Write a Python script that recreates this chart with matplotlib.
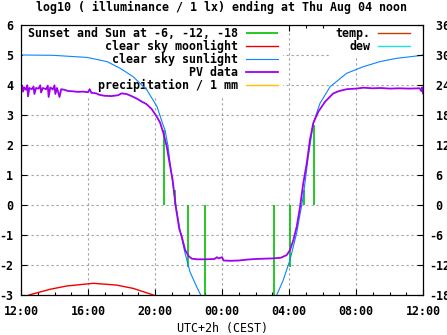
import matplotlib
matplotlib.use('Agg')
import matplotlib.pyplot as plt
from matplotlib.ticker import MultipleLocator

# hours after 12:00 noon (local time, UTC+2)
x_ticks = [0, 4, 8, 12, 16, 20, 24]
x_labels = ['12:00', '16:00', '20:00', '00:00', '04:00', '08:00', '12:00']
y_ticks = [-3, -2, -1, 0, 1, 2, 3, 4, 5, 6]
y_labels = ['-3', '-2', '-1', '0', '1', '2', '3', '4', '5', '6']
y2_ticks = [-18, -12, -6, 0, 6, 12, 18, 24, 30, 36]
y2_labels = ['-18', '-12', '-6', ' 0', ' 6', ' 12', ' 18', ' 24', ' 30', ' 36']

# sunset and sun at -6, -12, -18 (impulses)
sun_t = [8.556, 9.194, 9.99, 11.0, 15.12, 16.08, 16.91, 17.51]
sun_v = [2.5, 0.5, -2.05, -3.0, -3.0, -2.05, 0.5, 2.67]

# clear sky moonlight
moon_t = [0.2, 0.48, 1.73, 2.73, 4.32, 5.71, 6.7, 7.9, 8.2]
moon_v = [-3.1, -3.0, -2.81, -2.7, -2.61, -2.67, -2.78, -3.0, -3.1]

# clear sky sunlight
sky_t = [0.0, 1.9, 3.94, 5.13, 5.91, 6.69, 7.52, 8.12, 8.48, 8.6, 8.78, 8.9,
         9.19, 9.49, 9.79, 10.09, 10.49, 10.73, 10.9,
         15.1, 15.27, 15.66, 16.06, 16.46, 16.85, 17.15, 17.45, 17.85, 18.45,
         19.44, 20.44, 21.43, 22.43, 23.82, 24.0]
sky_v = [5.0, 4.99, 4.92, 4.78, 4.56, 4.28, 3.83, 3.28, 2.67, 2.5, 1.95, 1.4,
         0.17, -0.83, -1.6, -2.23, -2.73, -3.0, -3.3,
         -3.3, -3.0, -2.5, -1.83, -0.93, 0.28, 1.61, 2.73, 3.39, 3.94,
         4.39, 4.61, 4.78, 4.89, 4.98, 5.0]

# PV data
pv_t = [0.0, 0.08, 0.12, 0.2, 0.3, 0.38, 0.42, 0.5, 0.65, 0.75, 0.8, 0.9,
        1.05, 1.15, 1.2, 1.3, 1.5, 1.6, 1.65, 1.75, 1.9, 2.0, 2.05, 2.15,
        2.3, 2.4, 2.6, 2.8, 3.1, 3.4, 3.7, 4.0, 4.1, 4.2, 4.5, 4.7, 5.0,
        5.4, 5.8, 6.0, 6.3, 6.6, 6.9, 7.2, 7.5, 7.8, 8.1, 8.3, 8.5, 8.7,
        8.9, 9.05, 9.25, 9.45, 9.6, 9.8, 10.0, 10.2, 10.5, 11.0, 11.55,
        11.7, 11.8, 12.0, 12.1, 12.5, 13.0, 13.5, 14.0, 14.5, 15.0, 15.5,
        15.86, 16.06, 16.26, 16.46, 16.66, 16.85, 17.06, 17.25, 17.45,
        17.75, 18.15, 18.64, 19.0, 19.44, 20.0, 20.44, 21.0, 21.5, 22.0,
        22.6, 23.2, 23.8, 23.9, 23.95, 24.0]
pv_v = [3.9, 3.97, 3.78, 3.92, 3.84, 3.99, 3.62, 3.9, 3.86, 3.95, 3.7, 3.9,
        3.88, 3.99, 3.75, 3.9, 3.86, 3.98, 3.6, 3.92, 3.85, 3.99, 3.7, 3.9,
        3.6, 3.86, 3.84, 3.8, 3.79, 3.77, 3.78, 3.76, 3.86, 3.74, 3.72, 3.67, 3.64,
        3.63, 3.66, 3.72, 3.7, 3.63, 3.55, 3.45, 3.36, 3.2, 2.95, 2.75, 2.4, 1.95,
        1.3, 0.85, -0.1, -0.8, -1.06, -1.5, -1.7, -1.79, -1.81, -1.81, -1.8,
        -1.74, -1.78, -1.74, -1.85, -1.86, -1.85, -1.82, -1.8, -1.79, -1.78, -1.76,
        -1.67, -1.5, -1.17, -0.72, -0.06, 0.72, 1.39, 2.17, 2.73,
        3.11, 3.44, 3.72, 3.8, 3.86, 3.88, 3.91, 3.89, 3.9, 3.88,
        3.89, 3.88, 3.89, 3.8, 3.92, 3.72]

# no visible data in this window
precip_t, precip_v = [], []
temp_t, temp_v = [], []
dew_t, dew_v = [], []

FONT = dict(family='DejaVu Sans Mono', weight='bold', size=8.4)
plt.rcParams['font.family'] = 'DejaVu Sans Mono'
plt.rcParams['font.weight'] = 'bold'
plt.rcParams['font.size'] = 8.4

fig = plt.figure(figsize=(4.47, 3.35), dpi=100)
W, H = 447., 335.
ax = fig.add_axes([21 / W, 1 - 295 / H, 402 / W, 270 / H])
ax2 = ax.twinx()

l_sun = ax.vlines(sun_t, 0, sun_v, colors='#00c000', linewidth=1.2, zorder=2.0,
                  label='Sunset and Sun at -6, -12, -18')
l_moon, = ax.plot(moon_t, moon_v, color='#f00000', linewidth=1.0, zorder=2.1,
                  label='clear sky moonlight')
l_sky, = ax.plot(sky_t, sky_v, color='#0a84ff', linewidth=0.8, zorder=2.2,
                 label='clear sky sunlight')
l_pv, = ax.plot(pv_t, pv_v, color='#a000f0', linewidth=1.3, zorder=2.3,
                label='PV data')
l_rain, = ax.plot(precip_t, precip_v, color='#ffc000', linewidth=1.0,
                  label='precipitation / 1 mm')
l_temp, = ax.plot(temp_t, temp_v, color='#c04000', linewidth=1.0, label='temp.')
l_dew, = ax.plot(dew_t, dew_v, color='#20e0e0', linewidth=1.0, label='dew')

ax.set_xlim(0, 24)
ax.set_ylim(-3, 6)
ax2.set_ylim(-18, 36)
ax.set_xticks(x_ticks, x_labels)
ax.xaxis.set_minor_locator(MultipleLocator(1))
ax.set_yticks(y_ticks, y_labels)
ax2.set_yticks(y2_ticks, y2_labels)

ax.set_axisbelow(True)
ax.grid(True, which='major', color='#a0a0a0', linestyle=(0, (2, 2.5)), linewidth=0.8)

ax.tick_params(axis='x', which='both', direction='in', top=True, pad=7)
ax.tick_params(axis='x', which='major', length=4.5, width=0.8)
ax.tick_params(axis='x', which='minor', length=2.5, width=0.8)
ax.tick_params(axis='y', direction='in', length=4.5, width=0.8, pad=5.5, right=False)
ax2.tick_params(axis='y', direction='in', length=4.5, width=0.8, pad=4.3)
for a in (ax, ax2):
    for s in a.spines.values():
        s.set_linewidth(0.8)

ax.set_xlabel('UTC+2h (CEST)', labelpad=3)

leg1 = ax.legend(handles=[l_sun, l_moon, l_sky, l_pv, l_rain], loc='upper left',
                 bbox_to_anchor=(2 / 402, 1 + 2.5 / 270), markerfirst=False,
                 frameon=True, framealpha=1, edgecolor='none', fancybox=False,
                 borderpad=0.4, borderaxespad=0, labelspacing=0.0,
                 handlelength=2.75, handletextpad=0.7, prop=FONT)
leg1.set_zorder(1.5)
ax.add_artist(leg1)
leg2 = ax.legend(handles=[l_temp, l_dew], loc='upper right',
                 bbox_to_anchor=(1 - 8 / 402, 1 + 2.5 / 270), markerfirst=False,
                 frameon=True, framealpha=1, edgecolor='none', fancybox=False,
                 borderpad=0.4, borderaxespad=0, labelspacing=0.0,
                 handlelength=2.75, handletextpad=0.7, prop=FONT)
leg2.set_zorder(1.5)

fig.text(222 / W, 1 - 7 / H, 'log10 ( illuminance / 1 lx) ending at Thu Aug 04 noon',
         ha='center', va='center', fontdict=FONT)

fig.savefig('out.png', dpi=100)
